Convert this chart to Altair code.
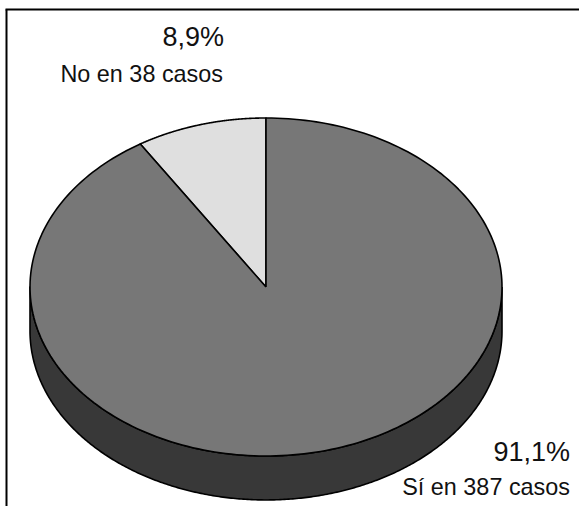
import altair as alt
import numpy as np
import pandas as pd

# Answers per category, starting at twelve o'clock and running counter-clockwise
categories = ["No", "Sí"]
counts = [38, 387]
fills = ["#DFDFDF", "#777777"]
side_fill = "#383838"
depth = 0.26  # thickness of the disc, in units of the vertical radius

total = sum(counts)
shares = [c / total for c in counts]


def pct(share):
    return f"{share * 100:.1f}".replace(".", ",") + "%"


def wedge(start, end):
    """Closed outline of a slice between two fractions of the turn."""
    t = np.linspace(start, end, 241) * 2 * np.pi
    xs = np.concatenate([[0], -np.sin(t), [0]])
    ys = np.concatenate([[0], np.cos(t), [0]])
    return xs, ys


rows = []
cum = 0.0
for name, share in zip(categories, shares):
    xs, ys = wedge(cum, cum + share)
    for i, (x, y) in enumerate(zip(xs, ys)):
        rows.append({"cat": name, "i": i, "x": x, "y": y})
    cum += share
top = pd.DataFrame(rows)

# Visible rim: lower half of the ellipse, then the same arc shifted down
t = np.linspace(np.pi / 2, 3 * np.pi / 2, 361)
rim_x = np.concatenate([np.sin(t), np.sin(t)[::-1], [np.sin(t)[0]]])
rim_y = np.concatenate([np.cos(t), np.cos(t)[::-1] - depth, [np.cos(t)[0]]])
rim = pd.DataFrame({"x": rim_x, "y": rim_y, "i": np.arange(len(rim_x))})

x_enc = alt.X("x:Q", axis=None, scale=alt.Scale(domain=[-1, 1], range=[30, 502]))
y_enc = alt.Y("y:Q", axis=None, scale=alt.Scale(domain=[-1, 1], range=[456, 118]))

side = alt.Chart(rim).mark_line(
    filled=True, fill=side_fill, stroke="black", strokeWidth=1.6, strokeJoin="round"
).encode(x=x_enc, y=y_enc, order="i:Q")

slices = [
    alt.Chart(top[top["cat"] == name]).mark_line(
        filled=True, fill=colour, stroke="black", strokeWidth=1.6, strokeJoin="round"
    ).encode(x=x_enc, y=y_enc, order="i:Q")
    for name, colour in zip(categories, fills)
]

frame_left = alt.Chart().mark_rule(stroke="black", strokeWidth=2).encode(
    x=alt.value(6.5), y=alt.value(9.5), y2=alt.value(506)
)
frame_top = alt.Chart().mark_rule(stroke="black", strokeWidth=2).encode(
    x=alt.value(5.5), x2=alt.value(579), y=alt.value(9.5)
)


def label(text, right, baseline_y, size):
    return alt.Chart().mark_text(
        text=text, align="right", baseline="alphabetic",
        font="Liberation Sans", fontSize=size, color="#111111",
    ).encode(x=alt.value(right), y=alt.value(baseline_y))


labels = [
    label(pct(shares[0]), 224, 46, 27),
    label(f"{categories[0]} en {counts[0]} casos", 223, 82, 23.4),
    label(pct(shares[1]), 570, 461, 27),
    label(f"{categories[1]} en {counts[1]} casos", 570, 495, 23.4),
]

chart = alt.layer(side, *slices, frame_left, frame_top, *labels).properties(
    width=579, height=506, padding=0, autosize=alt.AutoSizeParams(type="none"),
    background="white",
).configure_view(stroke=None)

chart.save("out.html", embed_options={"renderer": "svg", "actions": False})
